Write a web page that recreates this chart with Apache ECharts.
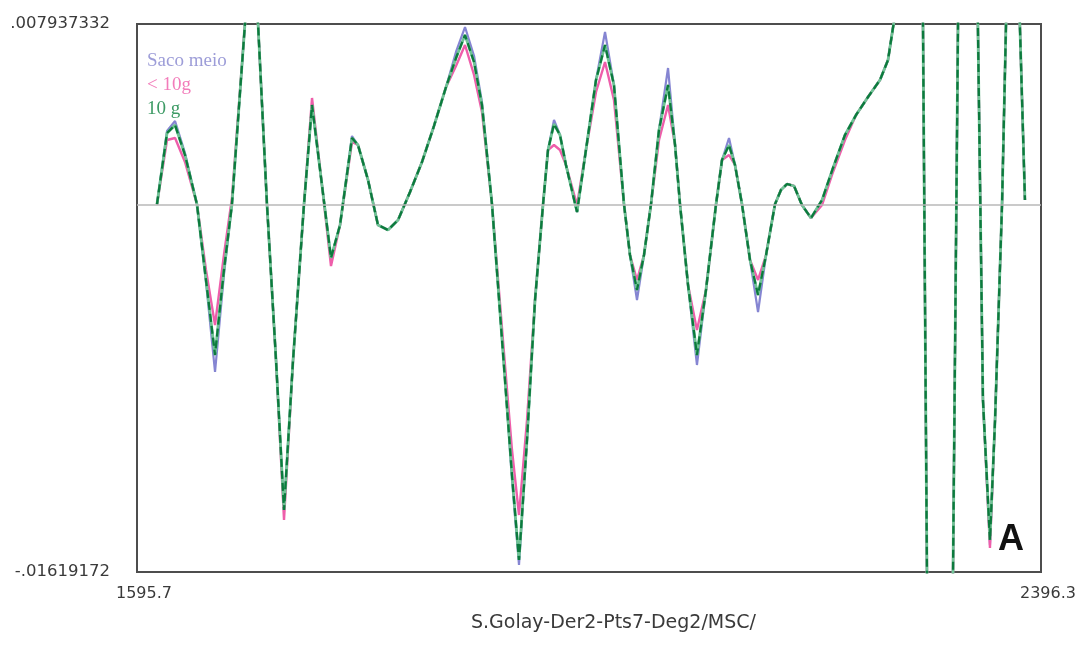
<!DOCTYPE html>
<html>
<head>
<meta charset="utf-8">
<title>S.Golay-Der2-Pts7-Deg2/MSC/</title>
<script src="https://cdn.jsdelivr.net/npm/echarts@6/dist/echarts.min.js"></script>
<style>
  html, body { margin: 0; padding: 0; background: #ffffff; }
  #chart { width: 1086px; height: 648px; }
</style>
</head>
<body>
<div id="chart"></div>
<script>
// Wavelength grid (nm) shared by all spectra
const wavelengths = [
  1613.4, 1622.3, 1629.4, 1638.2, 1648.8, 1656.8, 1664.8, 1672.7, 1679.8, 1691.3,
  1696.7, 1702.9, 1710.8, 1718.8, 1725.9, 1733.9, 1743.6, 1750.7, 1759.5, 1767.5,
  1775.5, 1786.1, 1791.4, 1800.3, 1809.1, 1818.0, 1826.9, 1837.5, 1848.1, 1858.7,
  1869.4, 1878.2, 1886.2, 1894.2, 1901.2, 1910.1, 1921.6, 1927.8, 1934.0, 1941.1,
  1948.2, 1955.3, 1959.7, 1965.0, 1970.3, 1975.6, 1985.4, 1993.3, 2002.2, 2010.2,
  2018.1, 2027.0, 2032.3, 2038.5, 2044.7, 2050.9, 2058.0, 2066.0, 2072.2, 2076.6,
  2083.7, 2091.6, 2099.6, 2108.5, 2113.8, 2120.0, 2125.3, 2131.5, 2138.6, 2145.7,
  2152.8, 2160.7, 2166.0, 2171.4, 2177.6, 2184.6, 2192.6, 2202.4, 2212.1, 2222.7,
  2232.5, 2243.1, 2253.7, 2260.8, 2269.7, 2284.7, 2302.4, 2310.4, 2329.9, 2344.9,
  2351.1, 2355.6, 2361.8, 2370.6, 2382.1
];

// Second-derivative spectra (S.Golay, 7 points, degree 2, after MSC)
const sacoMeio = [
  0, 3.226e-3, 3.666e-3, 2.257e-3, 0, -3.423e-3, -7.385e-3, -3.114e-3, 0, 7.937e-3,
  10.976e-3, 7.937e-3, 0, -6.857e-3, -13.462e-3, -6.857e-3, 0, 4.371e-3, 0.848e-3, -2.366e-3,
  -0.913e-3, 3.006e-3, 2.610e-3, 1.069e-3, -0.913e-3, -1.133e-3, -0.693e-3, 0.540e-3, 1.861e-3, 3.446e-3,
  5.164e-3, 6.705e-3, 7.805e-3, 6.528e-3, 4.503e-3, 0, -7.650e-3, -12.141e-3, -15.883e-3, -10.379e-3,
  -4.215e-3, 0, 2.390e-3, 3.710e-3, 3.050e-3, 1.729e-3, -0.340e-3, 2.390e-3, 5.472e-3, 7.585e-3,
  5.252e-3, 0, -2.234e-3, -4.215e-3, -2.234e-3, 0, 3.270e-3, 6.000e-3, 2.610e-3, 0,
  -3.555e-3, -7.077e-3, -3.775e-3, 0, 1.949e-3, 2.918e-3, 1.729e-3, 0, -2.454e-3, -4.743e-3,
  -2.234e-3, 0, 0.628e-3, 0.893e-3, 0.804e-3, -0.032e-3, -0.605e-3, 0.188e-3, 1.597e-3, 3.050e-3,
  3.931e-3, 4.723e-3, 5.472e-3, 6.352e-3, 9.214e-3, 56.196e-3, -64.450e-3, -59.606e-3, 46.553e-3, -8.618e-3,
  -15.003e-3, -9.499e-3, 0, 19.826e-3, 0.188e-3
];

const menos10g = [
  0, 2.830e-3, 2.918e-3, 1.861e-3, 0, -2.894e-3, -5.316e-3, -2.234e-3, 0.276e-3, 7.937e-3,
  10.976e-3, 7.937e-3, 0, -6.857e-3, -13.902e-3, -6.857e-3, 0, 4.679e-3, 0.848e-3, -2.718e-3,
  -0.913e-3, 2.742e-3, 2.610e-3, 1.069e-3, -0.913e-3, -1.133e-3, -0.693e-3, 0.540e-3, 1.861e-3, 3.446e-3,
  5.164e-3, 6.088e-3, 7.013e-3, 5.692e-3, 4.063e-3, 0, -7.077e-3, -10.820e-3, -13.682e-3, -9.499e-3,
  -4.215e-3, 0, 2.390e-3, 2.610e-3, 2.390e-3, 1.729e-3, -0.032e-3, 2.390e-3, 4.943e-3, 6.264e-3,
  4.591e-3, 0, -2.234e-3, -3.334e-3, -2.234e-3, 0, 2.830e-3, 4.371e-3, 2.610e-3, 0,
  -3.555e-3, -5.536e-3, -3.775e-3, 0, 1.949e-3, 2.169e-3, 1.729e-3, 0, -2.454e-3, -3.334e-3,
  -2.234e-3, 0, 0.628e-3, 0.893e-3, 0.804e-3, -0.032e-3, -0.605e-3, -0.032e-3, 1.421e-3, 2.830e-3,
  3.931e-3, 4.723e-3, 5.472e-3, 6.352e-3, 9.214e-3, 56.196e-3, -64.450e-3, -59.606e-3, 46.553e-3, -8.618e-3,
  -15.135e-3, -9.499e-3, 0, 19.826e-3, 0.188e-3
];

const dez10g = [
  0, 3.138e-3, 3.490e-3, 2.169e-3, 0, -3.334e-3, -6.637e-3, -2.894e-3, 0, 7.937e-3,
  10.976e-3, 7.937e-3, 0, -6.857e-3, -13.462e-3, -6.857e-3, 0, 4.371e-3, 0.848e-3, -2.366e-3,
  -0.913e-3, 2.918e-3, 2.610e-3, 1.069e-3, -0.913e-3, -1.133e-3, -0.693e-3, 0.540e-3, 1.861e-3, 3.446e-3,
  5.164e-3, 6.440e-3, 7.453e-3, 6.264e-3, 4.371e-3, 0, -7.738e-3, -11.920e-3, -15.663e-3, -10.379e-3,
  -4.215e-3, 0, 2.390e-3, 3.534e-3, 3.050e-3, 1.729e-3, -0.340e-3, 2.390e-3, 5.472e-3, 7.013e-3,
  5.252e-3, 0, -2.234e-3, -3.775e-3, -2.234e-3, 0, 3.270e-3, 5.252e-3, 2.610e-3, 0,
  -3.555e-3, -6.637e-3, -3.775e-3, 0, 1.949e-3, 2.610e-3, 1.729e-3, 0, -2.454e-3, -3.995e-3,
  -2.234e-3, 0, 0.628e-3, 0.893e-3, 0.804e-3, -0.032e-3, -0.605e-3, 0.188e-3, 1.597e-3, 3.050e-3,
  3.931e-3, 4.723e-3, 5.472e-3, 6.352e-3, 9.214e-3, 56.196e-3, -64.450e-3, -59.606e-3, 46.553e-3, -8.618e-3,
  -14.783e-3, -9.499e-3, 0, 19.826e-3, 0.188e-3
];

// Axis extremes and their printed labels
const xMin = 1595.7, xMax = 2396.3;
const yMin = -0.01619172, yMax = 0.007937332;
const xTickLabels = ['1595.7', '2396.3'];
const yTickLabels = ['-.01619172', '.007937332'];
const axisTitle = 'S.Golay-Der2-Pts7-Deg2/MSC/';

const zip = vals => wavelengths.map((w, i) => [w, vals[i]]);

const COLORS = {
  saco: '#8585d2',
  menos: '#ee5eaa',
  dezLight: '#6fc395',
  dezDark: '#0c7a3d'
};

const chart = echarts.init(document.getElementById('chart'), null, { renderer: 'canvas' });

const baseLine = {
  type: 'line',
  showSymbol: false,
  symbol: 'none',
  smooth: false,
  clip: true,
  silent: true,
  animation: false
};

chart.setOption({
  animation: false,
  backgroundColor: '#ffffff',
  grid: {
    left: 137, right: 45, top: 24, bottom: 76,
    show: true,
    borderColor: '#4d4d4d',
    borderWidth: 2,
    backgroundColor: 'transparent'
  },
  legend: {
    orient: 'vertical',
    left: 136,
    top: 47,
    itemWidth: 0,
    itemHeight: 0,
    itemGap: 5,
    selectedMode: false,
    textStyle: { fontFamily: 'Liberation Serif', fontSize: 19 },
    data: [
      { name: 'Saco meio', textStyle: { color: '#9d9dd8' } },
      { name: '< 10g', textStyle: { color: '#f27cba' } },
      { name: '10 g', textStyle: { color: '#3c9a64' } }
    ]
  },
  xAxis: {
    type: 'value',
    min: xMin,
    max: xMax,
    axisLine: { show: false },
    axisTick: { show: false },
    splitLine: { show: false },
    axisLabel: {
      customValues: [xMin, xMax],
      formatter: v => (Math.abs(v - xMin) < 1e-6 ? xTickLabels[0] : xTickLabels[1]),
      margin: 14,
      padding: [0, 0, 0, 14],
      color: '#3a3a3a',
      fontFamily: 'DejaVu Sans',
      fontSize: 16
    }
  },
  yAxis: {
    type: 'value',
    min: yMin,
    max: yMax,
    axisLine: { show: false },
    axisTick: { show: false },
    splitLine: { show: false },
    axisLabel: {
      customValues: [yMin, yMax],
      formatter: v => (Math.abs(v - yMin) < 1e-9 ? yTickLabels[0] : yTickLabels[1]),
      margin: 27,
      color: '#3a3a3a',
      fontFamily: 'DejaVu Sans',
      fontSize: 16.5
    }
  },
  graphic: [
    {
      type: 'text',
      left: 471,
      top: 614,
      style: {
        text: axisTitle,
        fill: '#3a3a3a',
        font: '19px "DejaVu Sans"'
      }
    },
    {
      type: 'text',
      left: 998,
      top: 522,
      style: {
        text: 'A',
        fill: '#111111',
        font: 'bold 36px "Liberation Sans"'
      }
    }
  ],
  series: [
    Object.assign({}, baseLine, {
      name: 'Saco meio',
      data: zip(sacoMeio),
      lineStyle: { color: COLORS.saco, width: 2.2 },
      itemStyle: { color: COLORS.saco },
      markLine: {
        silent: true,
        symbol: 'none',
        label: { show: false },
        lineStyle: { color: '#b9b9b9', type: 'solid', width: 1.5 },
        data: [{ yAxis: 0 }]
      }
    }),
    Object.assign({}, baseLine, {
      name: '< 10g',
      data: zip(menos10g),
      lineStyle: { color: COLORS.menos, width: 2.4 },
      itemStyle: { color: COLORS.menos }
    }),
    Object.assign({}, baseLine, {
      name: '10 g',
      data: zip(dez10g),
      lineStyle: { color: COLORS.dezLight, width: 2.8 },
      itemStyle: { color: COLORS.dezLight }
    }),
    Object.assign({}, baseLine, {
      name: '10 g',
      data: zip(dez10g),
      lineStyle: { color: COLORS.dezDark, width: 2.3, type: [8, 4] },
      itemStyle: { color: COLORS.dezDark }
    })
  ]
});
</script>
</body>
</html>
